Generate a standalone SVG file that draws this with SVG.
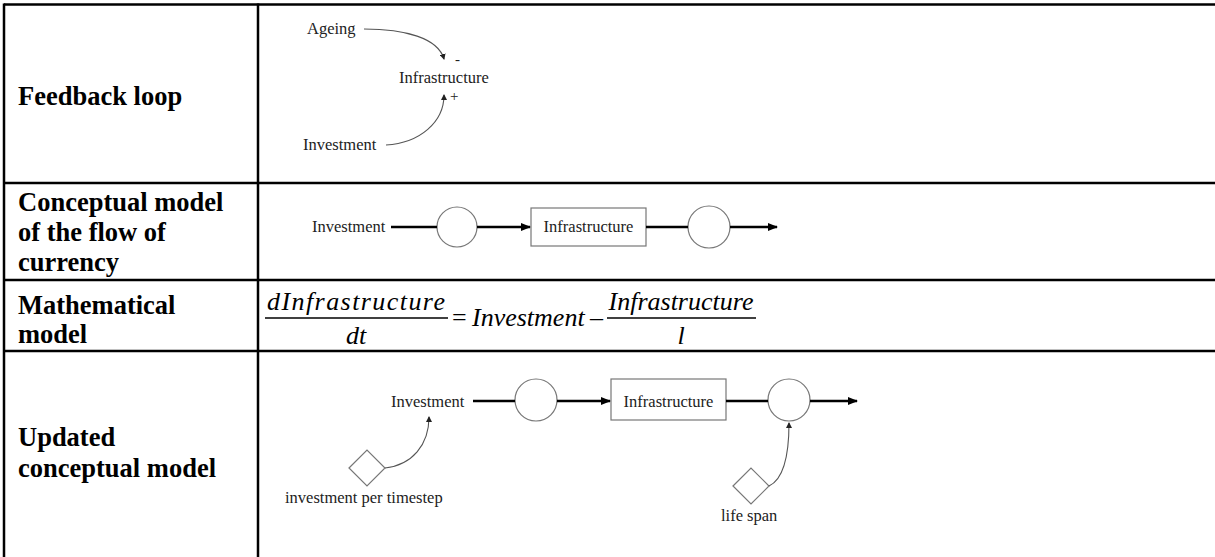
<svg xmlns="http://www.w3.org/2000/svg" width="1215" height="557" viewBox="0 0 1215 557">
  <style>
    .grid { stroke: #000; stroke-width: 2.5; fill: none; }
    .head { font-family: "Liberation Serif", "Times New Roman", serif; font-weight: bold; font-size: 26.5px; fill: #000; }
    .lbl { font-family: "Liberation Serif", "Times New Roman", serif; font-size: 16.5px; fill: #222; }
    .sign { font-family: "Liberation Serif", "Times New Roman", serif; font-size: 15px; fill: #222; }
    .eq { font-family: "Liberation Serif", "Times New Roman", serif; font-style: italic; font-size: 26px; fill: #000; }
    .eqn { font-family: "Liberation Serif", "Times New Roman", serif; font-size: 26px; fill: #000; }
    .flow { stroke: #000; stroke-width: 2.5; fill: none; }
    .valve { stroke: #777; stroke-width: 1.2; fill: #fff; }
    .stock { stroke: #777; stroke-width: 1.2; fill: #fff; }
    .link { stroke: #555; stroke-width: 1.1; fill: none; }
    .bar { stroke: #000; stroke-width: 1.3; }
  </style>
  <defs>
    <marker id="flowHead" markerUnits="userSpaceOnUse" markerWidth="10" markerHeight="8" refX="9" refY="4" orient="auto">
      <path d="M0,0 L10,4 L0,8 z" fill="#000"/>
    </marker>
    <marker id="linkHead" markerUnits="userSpaceOnUse" markerWidth="6" markerHeight="6" refX="5" refY="3" orient="auto">
      <path d="M0,0 L6,3 L0,6 z" fill="#222"/>
    </marker>
  </defs>

  <rect width="1215" height="557" fill="#fff"/>

  <!-- table rules (open on the right) -->
  <g id="table">
    <line class="grid" x1="4" y1="4.5" x2="1215" y2="4.5"/>
    <line class="grid" x1="4" y1="183" x2="1215" y2="183"/>
    <line class="grid" x1="4" y1="280" x2="1215" y2="280"/>
    <line class="grid" x1="4" y1="351" x2="1215" y2="351"/>
    <line class="grid" x1="4" y1="3.5" x2="4" y2="557"/>
    <line class="grid" x1="258" y1="3.5" x2="258" y2="557"/>
  </g>

  <!-- row headings -->
  <g id="headings">
    <text class="head" x="18" y="105">Feedback loop</text>
    <text class="head" x="18" y="211">Conceptual model</text>
    <text class="head" x="18" y="241">of the flow of</text>
    <text class="head" x="18" y="271">currency</text>
    <text class="head" x="18" y="314">Mathematical</text>
    <text class="head" x="18" y="343">model</text>
    <text class="head" x="18" y="446">Updated</text>
    <text class="head" x="18" y="477">conceptual model</text>
  </g>

  <!-- row 1: causal loop -->
  <g id="loop-ageing"><text class="lbl" x="307" y="34">Ageing</text></g>
  <g id="loop-infrastructure">
    <text class="lbl" x="399" y="83">Infrastructure</text>
    <text class="sign" x="455" y="64">-</text>
    <text class="sign" x="450" y="101">+</text>
  </g>
  <g id="loop-investment"><text class="lbl" x="303" y="150">Investment</text></g>

  <!-- row 2: stock and flow -->
  <g id="cm-investment"><text class="lbl" x="312" y="232">Investment</text></g>
  <g id="cm-inflow"><circle class="valve" cx="457" cy="227" r="20"/></g>
  <g id="cm-stock">
    <rect class="stock" x="531" y="208" width="115" height="38"/>
    <text class="lbl" x="588.5" y="232" text-anchor="middle">Infrastructure</text>
  </g>
  <g id="cm-outflow"><circle class="valve" cx="709" cy="227" r="21"/></g>

  <!-- row 3: equation -->
  <g id="equation">
    <text class="eq" x="267" y="310" textLength="178" lengthAdjust="spacing">dInfrastructure</text>
    <line class="bar" x1="265" y1="318" x2="448" y2="318"/>
    <text class="eq" x="356" y="344" text-anchor="middle">dt</text>
    <text class="eqn" x="452" y="326">=</text>
    <text class="eq" x="472" y="326">Investment</text>
    <text class="eqn" x="590" y="326">–</text>
    <text class="eq" x="681" y="310" text-anchor="middle">Infrastructure</text>
    <line class="bar" x1="607" y1="318" x2="756" y2="318"/>
    <text class="eq" x="681" y="344" text-anchor="middle">l</text>
  </g>

  <!-- row 4: updated stock and flow -->
  <g id="ucm-investment"><text class="lbl" x="391" y="407">Investment</text></g>
  <g id="ucm-inflow"><circle class="valve" cx="536" cy="400" r="21"/></g>
  <g id="ucm-stock">
    <rect class="stock" x="611" y="379" width="115" height="41"/>
    <text class="lbl" x="668.5" y="407" text-anchor="middle">Infrastructure</text>
  </g>
  <g id="ucm-outflow"><circle class="valve" cx="789" cy="400" r="21"/></g>
  <g id="ucm-rate">
    <path class="valve" d="M349,468 L367,450 L385,468 L367,486 z"/>
    <text class="lbl" x="285" y="503">investment per timestep</text>
  </g>
  <g id="ucm-lifespan">
    <path class="valve" d="M733,486 L751,468 L769,486 L751,504 z"/>
    <text class="lbl" x="721" y="521">life span</text>
  </g>

  <!-- connectors -->
  <g id="connectors">
    <path class="link" d="M364,29 C405,29 438,38 444,59" marker-end="url(#linkHead)"/>
    <path class="link" d="M386,145 C420,143 444,122 444,95" marker-end="url(#linkHead)"/>

    <line class="flow" x1="391" y1="227" x2="437" y2="227"/>
    <line class="flow" x1="477" y1="227" x2="530" y2="227" marker-end="url(#flowHead)"/>
    <line class="flow" x1="646" y1="227" x2="688" y2="227"/>
    <line class="flow" x1="730" y1="227" x2="777" y2="227" marker-end="url(#flowHead)"/>

    <line class="flow" x1="473" y1="401" x2="515" y2="401"/>
    <line class="flow" x1="557" y1="401" x2="610" y2="401" marker-end="url(#flowHead)"/>
    <line class="flow" x1="726" y1="401" x2="768" y2="401"/>
    <line class="flow" x1="810" y1="401" x2="857" y2="401" marker-end="url(#flowHead)"/>

    <path class="link" d="M385,468 C412,465 429,445 429,417" marker-end="url(#linkHead)"/>
    <path class="link" d="M769,486 C782,480 789,460 789,423" marker-end="url(#linkHead)"/>
  </g>
</svg>
